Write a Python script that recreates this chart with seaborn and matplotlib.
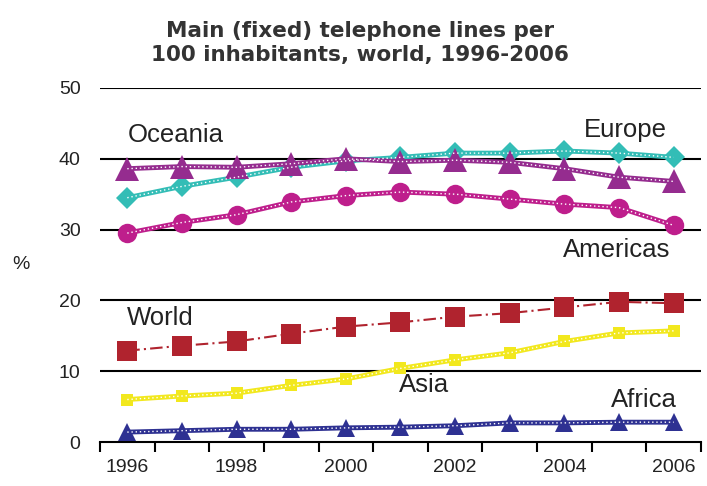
import matplotlib
matplotlib.use("Agg")
import matplotlib.pyplot as plt
import seaborn as sns
import pandas as pd

years = list(range(1996, 2007))

europe = [34.5, 36.1, 37.4, 38.8, 39.7, 40.2, 40.8, 40.8, 41.1, 40.8, 40.2]
oceania = [38.6, 38.9, 38.8, 39.3, 40.0, 39.6, 39.8, 39.5, 38.6, 37.4, 36.8]
americas = [29.5, 31.0, 32.1, 33.9, 34.8, 35.3, 35.0, 34.3, 33.6, 33.1, 30.6]
world = [12.9, 13.6, 14.2, 15.3, 16.3, 16.9, 17.7, 18.2, 19.0, 19.8, 19.6]
asia = [6.0, 6.5, 6.9, 8.0, 8.9, 10.4, 11.6, 12.6, 14.2, 15.4, 15.7]
africa = [1.4, 1.6, 1.8, 1.8, 2.0, 2.1, 2.3, 2.7, 2.7, 2.8, 2.8]

sns.set_theme(style="white")
plt.rcParams["font.family"] = ["Liberation Sans", "DejaVu Sans"]

fig = plt.figure(figsize=(7.07, 4.86), dpi=100)
ax = fig.add_axes([0.1414, 0.0905, 0.8501, 0.7285])

# name, values, colour, marker, marker size, dotted style
series = [
    ("Americas", americas, "#BE1E8C", "o", 14, True),
    ("Europe", europe, "#33BDB6", "D", 11, True),
    ("Oceania", oceania, "#952C8F", "^", 17, True),
    ("Asia", asia, "#F2E81E", "s", 9, True),
    ("World", world, "#B0232E", "s", 14, False),
    ("Africa", africa, "#2E3192", "^", 13, True),
]

for name, vals, color, marker, ms, dotted in series:
    df = pd.DataFrame({"year": years, "value": vals})
    if dotted:
        sns.lineplot(data=df, x="year", y="value", ax=ax, color=color,
                     linewidth=3.5, marker=marker, markersize=ms,
                     markeredgewidth=0, zorder=3)
        sns.lineplot(data=df, x="year", y="value", ax=ax, color="white",
                     linewidth=1.0, linestyle=(0, (1, 2)), zorder=3.5)
    else:
        sns.lineplot(data=df, x="year", y="value", ax=ax, color=color,
                     linewidth=1.5, linestyle=(0, (6, 2, 1, 2)),
                     marker=marker, markersize=ms, markeredgewidth=0,
                     zorder=3)

# horizontal rules
for yv in [10, 20, 30, 40, 50]:
    ax.axhline(yv, color="black", linewidth=1.5, zorder=1)

ax.set_ylim(0, 50)
ax.set_xlim(1995.5, 2006.5)
ax.set_yticks([0, 10, 20, 30, 40, 50])
ax.set_yticklabels(["0", "10", "20", "30", "40", "50"], fontsize=14, color="#222222")
ax.tick_params(axis="y", length=0, pad=14)

ax.set_xticks([1996, 1998, 2000, 2002, 2004, 2006])
ax.set_xticklabels(["1996", "1998", "2000", "2002", "2004", "2006"], fontsize=14, color="#222222")
ax.set_xticks([y - 0.5 for y in years] + [2006.5], minor=True)
ax.tick_params(axis="x", which="major", length=0, pad=12)
ax.tick_params(axis="x", which="minor", bottom=True, length=7, width=1.5, color="black")

for side in ["left", "right", "top"]:
    ax.spines[side].set_visible(False)
ax.spines["bottom"].set_color("black")
ax.spines["bottom"].set_linewidth(1.5)

ax.set_xlabel("")
ax.set_ylabel("")
fig.text(0.018, 0.455, "%", fontsize=14, color="#222222", ha="left", va="center")

fig.text(0.509, 0.911, "Main (fixed) telephone lines per\n100 inhabitants, world, 1996-2006",
         fontsize=15.5, fontweight="bold", color="#333333", ha="center", va="center",
         linespacing=1.25, family=["DejaVu Sans"])

label_kw = dict(fontsize=18.5, color="#222222", ha="left", va="center")
ax.text(1996.0, 43.4, "Oceania", **label_kw)
ax.text(2004.35, 44.1, "Europe", **label_kw)
ax.text(2003.98, 27.1, "Americas", **label_kw)
ax.text(1996.0, 17.5, "World", **label_kw)
ax.text(2000.97, 8.0, "Asia", **label_kw)
ax.text(2004.85, 5.9, "Africa", **label_kw)

fig.savefig("out.png", dpi=100)
